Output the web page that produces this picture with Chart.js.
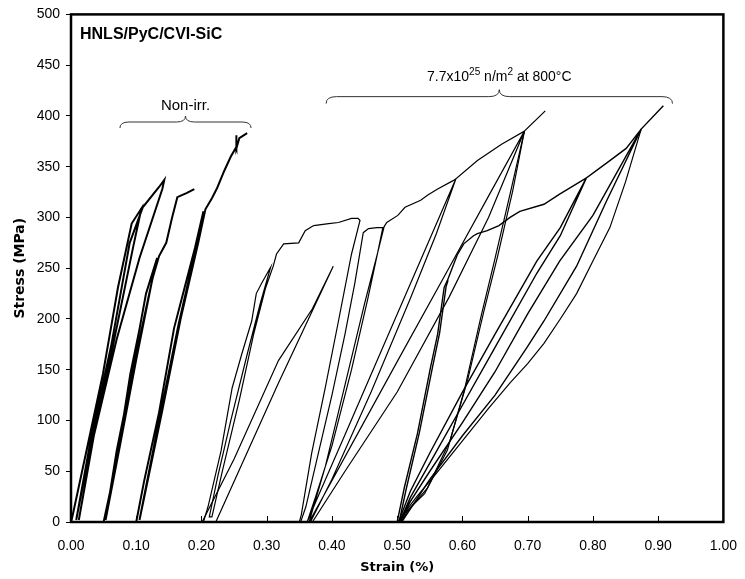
<!DOCTYPE html>
<html>
<head>
<meta charset="utf-8">
<script src="https://cdn.jsdelivr.net/npm/chart.js@4.4.0/dist/chart.umd.min.js"></script>
<style>
  html, body { margin: 0; padding: 0; background: #fff; }
  #wrap { width: 745px; height: 579px; }
</style>
</head>
<body>
<div id="wrap"><canvas id="myChart"></canvas></div>
<script>
// axis ticks
const strainTicks = [0, 0.1, 0.2, 0.3, 0.4, 0.5, 0.6, 0.7, 0.8, 0.9, 1.0];
const stressTicks = [0, 50, 100, 150, 200, 250, 300, 350, 400, 450, 500];

// non-irradiated specimens, [strain %, stress MPa]
const nonIrr1 = [[0,0],[0.002,5],[0.049,146],[0.072,231],[0.093,294],[0.108,309],
  [0.095,270],[0.06,160],[0.03,75],[0.008,2],[0.03,80],[0.062,175],[0.09,275],[0.11,310],
  [0.135,330],[0.143,337],[0.140,328],[0.105,260],[0.07,180],[0.035,85],[0.012,2]];
const nonIrr2 = [[0.05,0],[0.07,60],[0.091,146],[0.105,190],[0.115,225],[0.132,260],
  [0.12,225],[0.095,150],[0.07,70],[0.053,2],[0.075,75],[0.10,160],[0.125,240],[0.135,262],
  [0.14,268],[0.146,275],[0.155,300],[0.163,320],[0.17,322],[0.177,324],[0.189,328]];
const nonIrr3 = [[0.10,0],[0.112,40],[0.135,108],[0.158,191],[0.173,228],[0.19,270],[0.203,306],
  [0.19,265],[0.165,195],[0.135,100],[0.105,2],[0.14,110],[0.168,200],[0.195,275],[0.206,308],
  [0.216,319],[0.224,329],[0.235,346],[0.245,360],[0.253,369],[0.253,381],[0.254,368],
  [0.258,378],[0.27,383]];

// irradiated specimen offset 0.20
const irrA = [[0.203,0],[0.21,15],[0.23,70],[0.247,132],[0.262,166],[0.277,198],[0.284,225],
  [0.292,235],[0.306,251],[0.29,215],[0.27,165],[0.245,100],[0.225,45],[0.212,5],
  [0.216,5],[0.232,50],[0.258,120],[0.28,185],[0.298,230],[0.31,252],
  [0.315,264],[0.326,274],[0.349,275],[0.359,287],[0.372,292],[0.395,294],[0.410,295],
  [0.430,299],[0.440,299],[0.443,297],[0.430,264],[0.410,198],[0.390,133],[0.369,68],
  [0.353,7],[0.350,0]];
const irrA2 = [[0.222,0],[0.318,137],[0.402,252],[0.37,210],[0.318,159],[0.25,62],[0.201,0]];

// irradiated specimen offset 0.35
const irrB = [[0.352,0],[0.36,15],[0.38,70],[0.40,125],[0.42,185],[0.435,235],[0.448,285],
  [0.456,289],[0.469,290],[0.478,290],[0.47,265],[0.455,220],[0.43,150],[0.40,75],[0.375,25],
  [0.362,0],[0.365,0],[0.39,55],[0.42,135],[0.45,215],[0.47,265],[0.48,291],
  [0.484,295],[0.501,302],[0.512,310],[0.536,317],[0.547,322],[0.562,328],[0.585,336],[0.590,338],
  [0.54,264],[0.48,175],[0.42,86],[0.38,27],[0.362,0],
  [0.367,0],[0.40,42],[0.46,128],[0.52,220],[0.56,284],[0.59,338],
  [0.623,356],[0.66,372],[0.695,385],
  [0.64,321],[0.58,251],[0.50,158],[0.43,76],[0.39,29],[0.365,0],
  [0.37,0],[0.42,50],[0.50,128],[0.58,222],[0.64,300],[0.695,385],[0.727,405]];
// final unloading of the 0.35 specimen
const irrB2 = [[0.695,385],[0.673,323],[0.649,257],[0.628,201],[0.603,130],[0.577,71],
  [0.542,28],[0.512,9],[0.503,0]];
const irrB3 = [[0.695,385],[0.677,326],[0.654,262],[0.633,208],[0.608,140],[0.581,80],
  [0.546,33],[0.516,11],[0.506,0]];

// irradiated specimen offset 0.50
const irrC = [[0.50,0],[0.511,34],[0.531,87],[0.551,152],[0.562,185],[0.572,231],[0.577,238],
  [0.592,263],[0.602,274],[0.617,282],[0.623,284],[0.638,287],[0.656,292],
  [0.673,300],[0.688,306],[0.725,313],[0.749,323],[0.775,333],[0.79,339],
  [0.75,290],[0.714,257],[0.65,185],[0.60,128],[0.55,68],[0.52,30],[0.502,0],
  [0.504,0],[0.52,24],[0.55,58],[0.60,115],[0.65,172],[0.714,245],[0.75,282],[0.79,339],
  [0.826,356],[0.851,368],[0.874,387],
  [0.80,302],[0.749,257],[0.70,205],[0.65,148],[0.60,98],[0.55,50],[0.52,20],[0.505,0],
  [0.507,0],[0.55,42],[0.60,85],[0.65,125],[0.699,172],[0.725,198],[0.775,252],[0.82,315],[0.874,387],
  [0.908,410]];
const irrC2 = [[0.874,387],[0.85,335],[0.826,290],[0.80,257],[0.775,225],[0.75,200],[0.725,176],
  [0.70,156],[0.673,137],[0.64,112],[0.60,80],[0.56,48],[0.53,25],[0.51,8],[0.503,0]];
// reload on the steep initial part of the 0.50 specimen
const irrC3 = [[0.503,0],[0.514,33],[0.534,88],[0.554,152],[0.565,186],[0.575,232],[0.578,238]];

const curves = [
  { pts: nonIrr1, w: 2 }, { pts: nonIrr2, w: 2 }, { pts: nonIrr3, w: 2 },
  { pts: irrA, w: 1.2 }, { pts: irrA2, w: 1.2 },
  { pts: irrB, w: 1.2 }, { pts: irrB2, w: 1.2 }, { pts: irrB3, w: 1.2 },
  { pts: irrC, w: 1.4 }, { pts: irrC2, w: 1.2 }, { pts: irrC3, w: 1.4 }
];

const datasets = curves.map(c => ({
  data: c.pts.map(p => ({ x: p[0], y: p[1] })),
  showLine: true,
  borderColor: '#000',
  borderWidth: c.w,
  pointRadius: 0,
  tension: 0,
  fill: false
}));

// frame, inward x ticks and text labels with braces
const decorations = {
  id: 'decorations',
  afterDraw(chart) {
    const { ctx, chartArea: a, scales: { x, y } } = chart;
    ctx.save();
    ctx.strokeStyle = '#000';
    ctx.lineWidth = 1;
    strainTicks.forEach(v => {
      const px = Math.round(x.getPixelForValue(v)) + 0.5;
      ctx.beginPath();
      ctx.moveTo(px, a.bottom);
      ctx.lineTo(px, a.bottom - 6);
      ctx.stroke();
    });
    ctx.lineWidth = 2.5;
    ctx.strokeRect(a.left, a.top, a.right - a.left, a.bottom - a.top);

    ctx.fillStyle = '#000';
    ctx.font = 'bold 16px "Liberation Sans Narrow", "Liberation Sans", Arial, sans-serif';
    ctx.textBaseline = 'middle';
    ctx.textAlign = 'left';
    ctx.fillText('HNLS/PyC/CVI-SiC', a.left + 9, 35);

    const brace = (x1, x2, yy, h) => {
      const p1 = x.getPixelForValue(x1), p2 = x.getPixelForValue(x2);
      const py = y.getPixelForValue(yy), mid = (p1 + p2) / 2;
      ctx.beginPath();
      ctx.moveTo(p1, py + h);
      ctx.quadraticCurveTo(p1, py, p1 + h * 1.5, py);
      ctx.lineTo(mid - h * 1.5, py);
      ctx.quadraticCurveTo(mid, py, mid, py - h);
      ctx.quadraticCurveTo(mid, py, mid + h * 1.5, py);
      ctx.lineTo(p2 - h * 1.5, py);
      ctx.quadraticCurveTo(p2, py, p2, py + h);
      ctx.stroke();
      return mid;
    };
    ctx.lineWidth = 1;
    ctx.strokeStyle = '#333';
    const m1 = brace(0.075, 0.276, 394, 6);
    const m2 = brace(0.391, 0.922, 419, 7);

    ctx.font = '15px "Liberation Sans", Arial, sans-serif';
    ctx.textAlign = 'center';
    ctx.fillText('Non-irr.', m1, y.getPixelForValue(410));

    // 7.7x10^25 n/m^2 at 800°C with superscripts
    const base = '14px "Liberation Sans", Arial, sans-serif';
    const sup = '10px "Liberation Sans", Arial, sans-serif';
    const parts = [['7.7x10', base, 0], ['25', sup, -5], [' n/m', base, 0], ['2', sup, -5], [' at 800°C', base, 0]];
    let total = 0;
    parts.forEach(p => { ctx.font = p[1]; total += ctx.measureText(p[0]).width; });
    let cx = m2 - total / 2;
    const ty = y.getPixelForValue(438);
    ctx.textAlign = 'left';
    parts.forEach(p => {
      ctx.font = p[1];
      ctx.fillText(p[0], cx, ty + p[2]);
      cx += ctx.measureText(p[0]).width;
    });
    ctx.restore();
  }
};

const tickFont = { family: '"Liberation Sans Narrow", "Liberation Sans", Arial, sans-serif', size: 14 };
const titleFont = { family: '"DejaVu Sans", Verdana, sans-serif', size: 13, weight: 'bold' };

const ctx = document.getElementById('myChart').getContext('2d');
new Chart(ctx, {
  type: 'scatter',
  data: { datasets },
  plugins: [decorations],
  options: {
    responsive: true,
    maintainAspectRatio: false,
    animation: false,
    layout: { padding: { top: 13, right: 18, left: 0, bottom: 0 } },
    plugins: { legend: { display: false }, tooltip: { enabled: false } },
    scales: {
      x: {
        type: 'linear', min: 0, max: 1,
        afterBuildTicks: s => { s.ticks = strainTicks.map(v => ({ value: v })); },
        afterFit: s => { s.height = 57; },
        border: { display: false },
        grid: { display: false },
        ticks: { color: '#000', font: tickFont, padding: 8, callback: v => v.toFixed(2), maxRotation: 0 },
        title: { display: true, text: 'Strain (%)', color: '#000', font: titleFont, padding: { top: 3 } }
      },
      y: {
        type: 'linear', min: 0, max: 500,
        afterBuildTicks: s => { s.ticks = stressTicks.map(v => ({ value: v })); },
        afterFit: s => { s.width = 71; },
        border: { display: false },
        grid: { drawOnChartArea: false, tickLength: 5, color: '#000', tickColor: '#000' },
        ticks: { color: '#000', font: tickFont, padding: 6 },
        title: { display: true, text: 'Stress (MPa)', color: '#000', font: { ...titleFont, size: 14 }, padding: { top: 12, bottom: 0 } }
      }
    }
  }
});
</script>
</body>
</html>
